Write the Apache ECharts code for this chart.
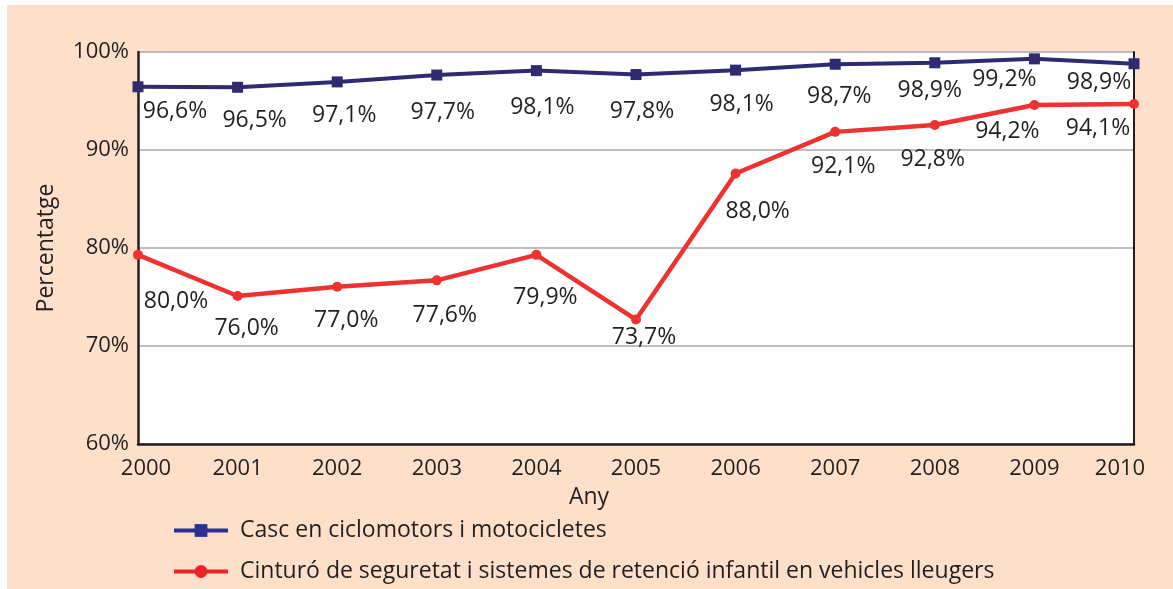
<!DOCTYPE html>
<html>
<head>
<meta charset="utf-8">
<script src="https://cdn.jsdelivr.net/npm/echarts@6/dist/echarts.min.js"></script>
<style>
    html, body { margin: 0; padding: 0; background: #fff; }
    #chart { width: 1173px; height: 589px; }
</style>
</head>
<body>
<div id="chart"></div>
<script>
    // dades
    var years = ['2000', '2001', '2002', '2003', '2004', '2005', '2006', '2007', '2008', '2009', '2010'];
    var cascValues = [96.45, 96.4, 96.95, 97.65, 98.1, 97.7, 98.15, 98.75, 98.9, 99.3, 98.8];
    var cascLabels = ['96,6%', '96,5%', '97,1%', '97,7%', '98,1%', '97,8%', '98,1%', '98,7%', '98,9%', '99,2%', '98,9%'];
    var cinturoValues = [79.3, 75.1, 76.05, 76.7, 79.3, 72.7, 87.6, 91.85, 92.55, 94.6, 94.7];
    var cinturoLabels = ['80,0%', '76,0%', '77,0%', '77,6%', '79,9%', '73,7%', '88,0%', '92,1%', '92,8%', '94,2%', '94,1%'];
    var yTicks = [60, 70, 80, 90, 100];

    var cascName = 'Casc en ciclomotors i motocicletes';
    var cinturoName = 'Cinturó de seguretat i sistemes de retenció infantil en vehicles lleugers';

    // on va cada etiqueta respecte del seu punt
    var cascOffsets = [[37, 25], [17, 33], [7, 34], [6, 37], [6, 37], [6, 37], [6, 34], [4, 32], [-5, 28], [-30, 21], [-35, 19]];
    var cinturoOffsets = [[38, 47], [9, 32], [9, 34], [8, 35], [9, 43], [8, 18], [22, 38], [8, 35], [-2, 34], [-27, 27], [-36, 25]];

    var font = '"Open Sans", "Noto Sans", sans-serif';
    var ink = '#231f20';

    function withLabels(values, labels, offsets) {
        return values.map(function (v, i) {
            return {
                value: v,
                label: { formatter: labels[i], offset: offsets[i] }
            };
        });
    }

    function legendAt(top, name, color) {
        return {
            orient: 'vertical',
            left: 167,
            top: top,
            itemWidth: 54,
            itemHeight: 16,
            textStyle: { fontFamily: font, fontSize: 23, color: ink, padding: [0, 0, 0, 7] },
            data: [{ name: name, itemStyle: { color: color }, lineStyle: { color: color, width: 4 } }]
        };
    }

    var chart = echarts.init(document.getElementById('chart'));
    chart.setOption({
        animation: false,
        backgroundColor: '#fff',
        graphic: [{
            type: 'rect',
            z: -10,
            shape: { x: 7, y: 5, width: 1166, height: 584 },
            style: { fill: '#fddfca' }
        }],
        grid: {
            left: 138,
            right: 39,
            top: 52,
            bottom: 145,
            show: true,
            backgroundColor: '#fff',
            borderWidth: 0
        },
        legend: [
            legendAt(514, cascName, '#2e3192'),
            legendAt(555, cinturoName, '#ed2224')
        ],
        xAxis: {
            type: 'category',
            boundaryGap: false,
            data: years.map(function (y, i) {
                if (i === 0) return { value: y, textStyle: { padding: [0, 0, 0, 16] } };
                if (i === years.length - 1) return { value: y, textStyle: { padding: [0, 28, 0, 0] } };
                return y;
            }),
            name: 'Any',
            nameLocation: 'middle',
            nameGap: 42,
            nameTextStyle: { fontFamily: font, fontSize: 23, color: ink, padding: [0, 94, 0, 0] },
            axisLine: { lineStyle: { color: ink, width: 2.5 } },
            axisTick: { show: false },
            axisLabel: { fontFamily: font, fontSize: 22, color: ink, margin: 14 },
            splitLine: { show: false }
        },
        yAxis: [
            {
                type: 'value',
                min: yTicks[0],
                max: yTicks[yTicks.length - 1],
                interval: 10,
                name: 'Percentatge',
                nameLocation: 'middle',
                nameGap: 80,
                nameTextStyle: { fontFamily: font, fontSize: 23, color: ink },
                axisLine: { show: true, lineStyle: { color: ink, width: 2.5 } },
                axisTick: { show: false },
                axisLabel: { fontFamily: font, fontSize: 22, color: ink, margin: 9, formatter: '{value}%' },
                splitLine: { lineStyle: { color: '#a7a9ac', width: 1.5 } }
            },
            {
                type: 'value',
                position: 'right',
                min: yTicks[0],
                max: yTicks[yTicks.length - 1],
                interval: 10,
                axisLine: { show: true, lineStyle: { color: ink, width: 2 } },
                axisTick: { show: false },
                axisLabel: { show: false },
                splitLine: { show: false }
            }
        ],
        series: [
            {
                name: cinturoName,
                type: 'line',
                data: withLabels(cinturoValues, cinturoLabels, cinturoOffsets),
                symbol: 'circle',
                symbolSize: 10,
                lineStyle: { color: '#ee3131', width: 4.5 },
                itemStyle: { color: '#ee3131' },
                label: {
                    show: true,
                    position: 'inside',
                    align: 'center',
                    verticalAlign: 'middle',
                    fontFamily: font,
                    fontSize: 23,
                    color: ink
                }
            },
            {
                name: cascName,
                type: 'line',
                data: withLabels(cascValues, cascLabels, cascOffsets),
                symbol: 'rect',
                symbolSize: [11, 11],
                lineStyle: { color: '#2f2a72', width: 4 },
                itemStyle: { color: '#2f2a72' },
                label: {
                    show: true,
                    position: 'inside',
                    align: 'center',
                    verticalAlign: 'middle',
                    fontFamily: font,
                    fontSize: 23,
                    color: ink
                }
            }
        ]
    });
</script>
</body>
</html>
